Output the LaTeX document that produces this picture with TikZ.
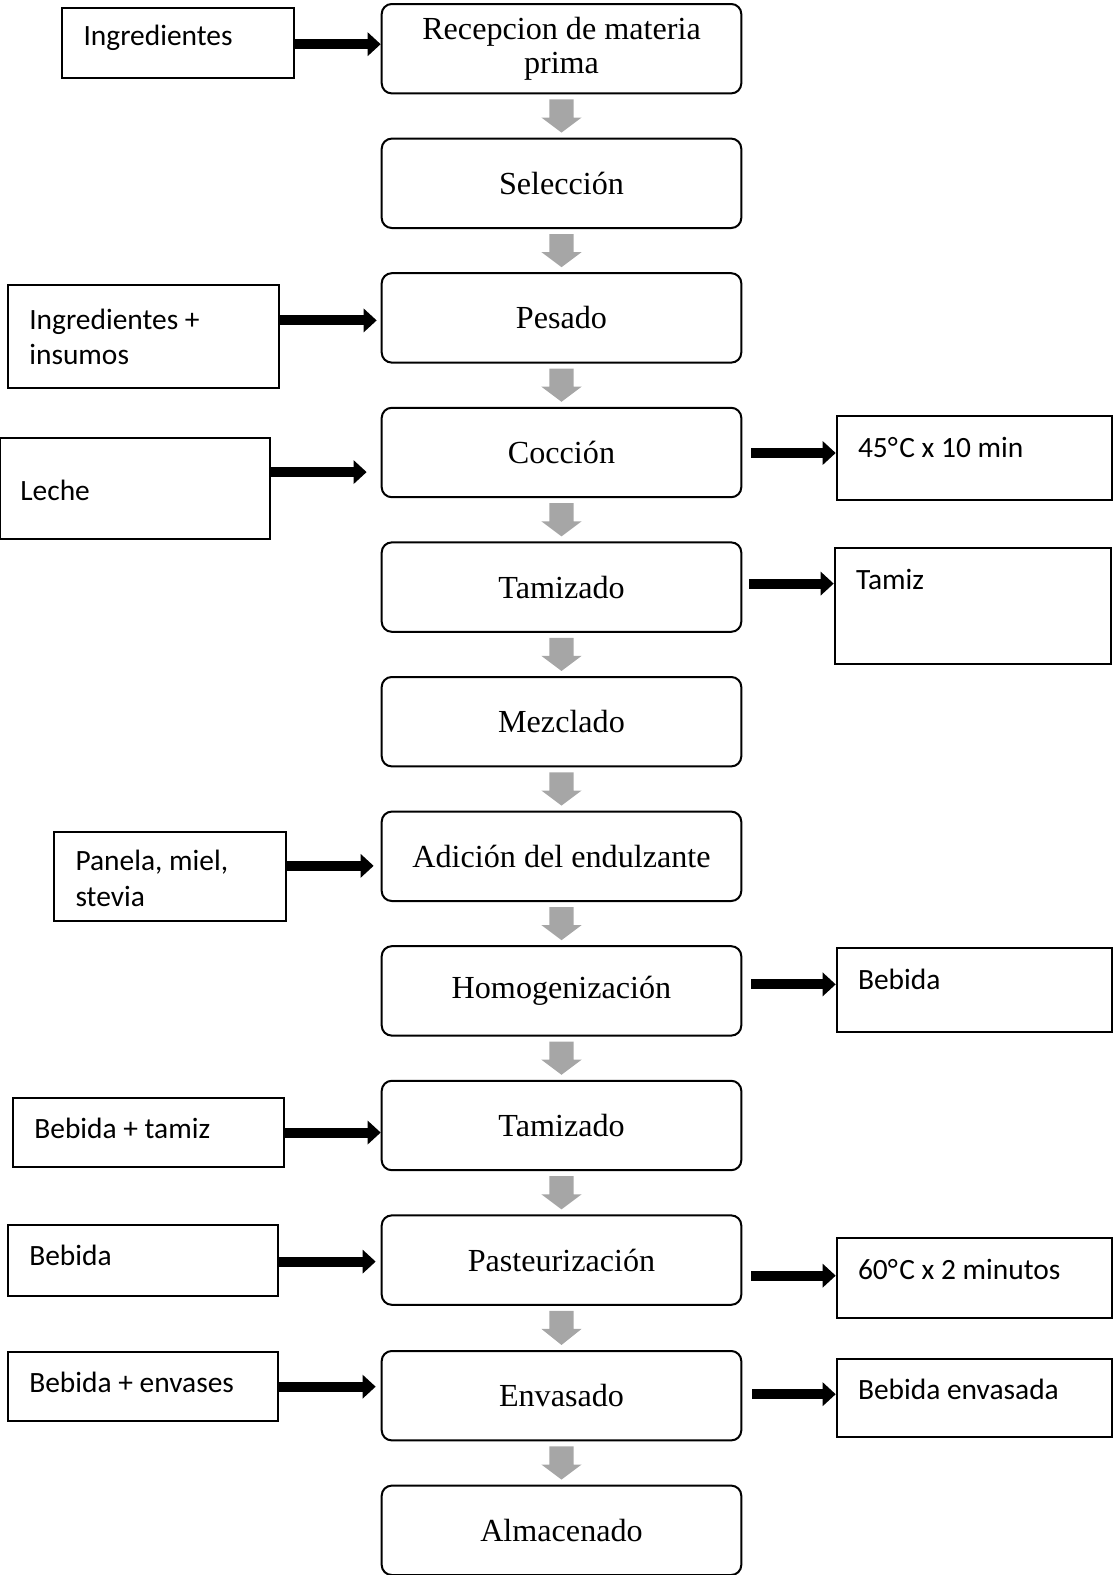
\documentclass[tikz,border=0pt]{standalone}
\usepackage{fontspec}
\setmainfont{Liberation Serif}
\newfontfamily\sidefont{Carlito}
\usetikzlibrary{arrows.meta,calc}
\definecolor{arrgray}{RGB}{166,166,166}
\begin{document}
\begin{tikzpicture}[x=1pt,y=-1pt,
  mainbox/.style={draw,line width=2pt,rounded corners=10pt,minimum width=358pt,minimum height=89pt,inner sep=0pt,align=center,font=\fontsize{32}{34}\selectfont},
  sidebox/.style={draw,line width=2pt,inner sep=0pt},
  sidetext/.style={anchor=west,inner sep=0pt,align=left,font=\sidefont\fontsize{29.3}{35}\selectfont},
  blk/.style={line width=10pt,-{Triangle[length=13pt,width=23pt]}},
  gray arrow/.style={fill=arrgray}
]
\useasboundingbox (0,0) rectangle (1108,1568);
% main boxes
\node[mainbox] (m1) at (559,48.5) {Recepcion de materia\\prima};
\node[mainbox] (m2) at (559,182.5) {Selección};
\node[mainbox] (m3) at (559,316.5) {Pesado};
\node[mainbox] (m4) at (559,450.5) {Cocción};
\node[mainbox] (m5) at (559,584.5) {Tamizado};
\node[mainbox] (m6) at (559,718.5) {Mezclado};
\node[mainbox] (m7) at (559,852.5) {Adición del endulzante};
\node[mainbox] (m8) at (559,986.5) {Homogenización};
\node[mainbox] (m9) at (559,1120.5) {Tamizado};
\node[mainbox] (m10) at (559,1254.5) {Pasteurización};
\node[mainbox] (m11) at (559,1389.5) {Envasado};
\node[mainbox] (m12) at (559,1523.5) {Almacenado};
% gray arrows
\foreach \a/\b in {m1/m2,m2/m3,m3/m4,m4/m5,m5/m6,m6/m7,m7/m8,m8/m9,m9/m10,m10/m11,m11/m12}{
  \fill[gray arrow] ($(\a.south)+(-12,5)$) -- ($(\a.south)+(12,5)$) -- ($(\a.south)+(12,23)$)
    -- ($(\a.south)+(20,23)$) -- ($(\b.north)+(0,-5)$) -- ($(\a.south)+(-20,23)$) -- ($(\a.south)+(-12,23)$) -- cycle;
}
% left boxes
\node[sidebox,minimum width=231pt,minimum height=70pt] (l1) at (177.5,43) {};
\node[sidetext] (t1) at (83,38) {Ingredientes};
\node[sidebox,minimum width=270pt,minimum height=102pt] (l2) at (143,335) {};
\node[sidetext] (t2) at (29,335.5) {Ingredientes +\\insumos};
\node[sidebox,minimum width=269pt,minimum height=101pt] (l3) at (134.5,486.5) {};
\node[sidetext] (t3) at (20,488) {Leche};
\node[sidebox,minimum width=231pt,minimum height=89pt] (l4) at (169.5,872.5) {};
\node[sidetext] (t4) at (75,874.5) {Panela, miel,\\stevia};
\node[sidebox,minimum width=270pt,minimum height=69pt] (l5) at (148,1127.5) {};
\node[sidetext] (t5) at (34,1123) {Bebida + tamiz};
\node[sidebox,minimum width=269pt,minimum height=70pt] (l6) at (142.5,1255) {};
\node[sidetext] (t6) at (29,1250) {Bebida};
\node[sidebox,minimum width=269pt,minimum height=69pt] (l7) at (142.5,1380.5) {};
\node[sidetext] (t7) at (29,1376) {Bebida + envases};
% right boxes
\node[sidebox,minimum width=274pt,minimum height=84pt] (r1) at (970,456) {};
\node[sidetext] (u1) at (854,445) {45°\kern1.5pt C x 10 min};
\node[sidebox,minimum width=275pt,minimum height=115pt] (r2) at (968.5,603.5) {};
\node[sidetext] (u2) at (852,577) {Tamiz};
\node[sidebox,minimum width=274pt,minimum height=83pt] (r3) at (970,985.5) {};
\node[sidetext] (u3) at (854,975) {Bebida};
\node[sidebox,minimum width=274pt,minimum height=80pt] (r4) at (970,1272) {};
\node[sidetext] (u4) at (854,1264) {60°\kern1.5pt C x 2 minutos};
\node[sidebox,minimum width=274pt,minimum height=78pt] (r5) at (970,1392) {};
\node[sidetext] (u5) at (854,1383) {Bebida envasada};
% black arrows left -> main
\draw[blk] ([yshift=-1pt]l1.east) -- ([yshift=-1pt]l1.east -| m1.west);
\draw[blk,shorten >=4pt] ([yshift=16pt]l2.east) -- ([yshift=16pt]l2.east -| m3.west);
\draw[blk,shorten >=14pt] ([yshift=16.5pt]l3.east) -- ([yshift=16.5pt]l3.east -| m4.west);
\draw[blk,shorten >=7pt] ([yshift=10.5pt]l4.east) -- ([yshift=10.5pt]l4.east -| m7.west);
\draw[blk] (l5.east) -- (l5.east -| m9.west);
\draw[blk,shorten >=5pt] ([yshift=-1pt]l6.east) -- ([yshift=-1pt]l6.east -| m10.west);
\draw[blk,shorten >=5pt] (l7.east) -- (l7.east -| m11.west);
% black arrows main -> right
\draw[blk,shorten <=9pt] ([yshift=5pt]r1.west -| m4.east) -- ([yshift=5pt]r1.west);
\draw[blk,shorten <=7pt] ([yshift=22.5pt]r2.west -| m5.east) -- ([yshift=22.5pt]r2.west);
\draw[blk,shorten <=9pt] ([yshift=5.5pt]r3.west -| m8.east) -- ([yshift=5.5pt]r3.west);
\draw[blk,shorten <=9pt] ([yshift=2pt]r4.west -| m10.east) -- ([yshift=2pt]r4.west);
\draw[blk,shorten <=10pt] ([yshift=4pt]r5.west -| m11.east) -- ([yshift=4pt]r5.west);
\end{tikzpicture}
\end{document}
